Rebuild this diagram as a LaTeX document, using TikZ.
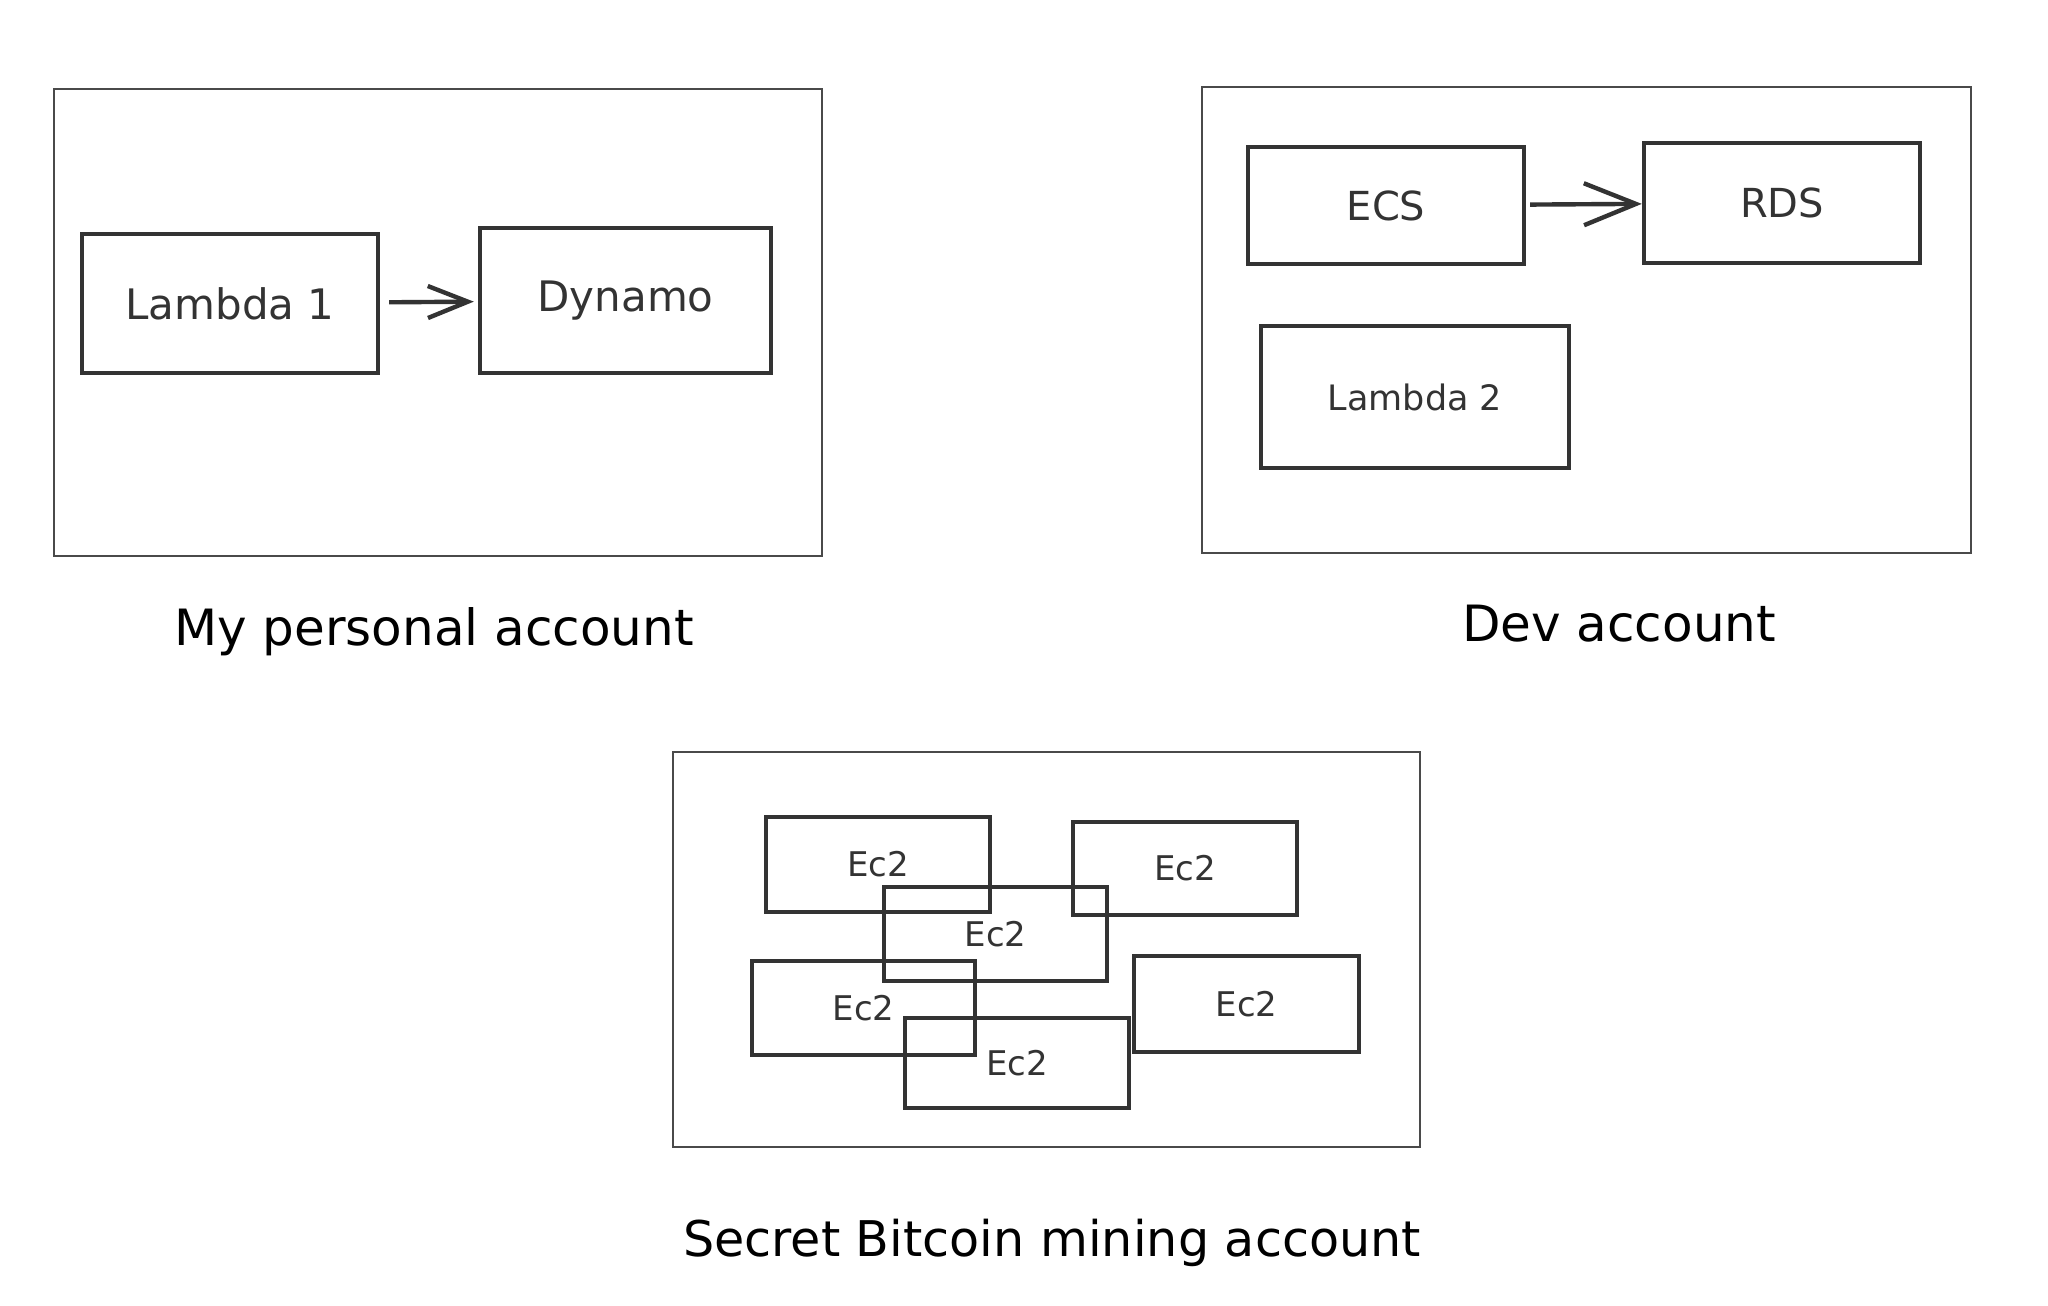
\documentclass[tikz,border=0pt]{standalone}
\usepackage{fontspec}
\setmainfont{DejaVu Sans}
\usetikzlibrary{arrows.meta}
\definecolor{ink}{HTML}{333333}
\definecolor{framec}{HTML}{4A4A4A}
\begin{document}
\begin{tikzpicture}[x=0.5pt,y=-0.5pt,
  acct/.style={draw=framec,line width=1.2pt,inner sep=0pt},
  svc/.style={draw=ink,line width=2.2pt,inner sep=0pt,text=ink},
  big/.style={font=\fontsize{21}{25}\selectfont},
  mid/.style={font=\fontsize{20}{24}\selectfont},
  small/.style={font=\fontsize{17.5}{21}\selectfont},
  ectext/.style={font=\fontsize{17}{20}\selectfont},
  lbl/.style={anchor=base,text=black,font=\fontsize{25}{30}\selectfont},
  arr/.style={draw=ink,line width=2.2pt},
]
\useasboundingbox (0,0) rectangle (2048,1305);

% Account frames
\node[acct,minimum width=384pt,minimum height=233.5pt] (personal) at (438,322.5) {};
\node[acct,minimum width=384.5pt,minimum height=233pt] (dev) at (1586.5,320) {};
\node[acct,minimum width=373.5pt,minimum height=197.5pt] (btc) at (1046.5,949.5) {};

% Personal account
\node[svc,big,minimum width=148pt,minimum height=69.5pt] (lam1) at (230,303.5) {Lambda 1};
\node[svc,big,minimum width=145.5pt,minimum height=72.5pt] (dyn) at (625.5,300.5) {Dynamo};
\draw[arr,-{Straight Barb[length=20pt,width=16pt]},shorten <=4.5pt,shorten >=2pt] (lam1) -- (dyn);

% Dev account
\node[svc,mid,minimum width=138pt,minimum height=58.5pt] (ecs) at (1386,205.5) {ECS};
\node[svc,mid,minimum width=138pt,minimum height=60pt] (rds) at (1782,203) {RDS};
\node[svc,small,minimum width=154pt,minimum height=71pt] (lam2) at (1415,397) {Lambda 2};
\draw[arr,-{Straight Barb[length=26pt,width=21pt]},shorten <=2pt] (ecs) -- (rds);

% Bitcoin account
\node[svc,ectext,minimum width=112pt,minimum height=47.5pt] (ecA) at (878,864.5) {Ec2};
\node[svc,ectext,minimum width=112pt,minimum height=46.5pt] (ecB) at (1185,868.5) {Ec2};
\node[svc,ectext,minimum width=111.5pt,minimum height=47pt] (ecC) at (995.5,934) {Ec2};
\node[svc,ectext,minimum width=111.5pt,minimum height=47pt] (ecD) at (863.5,1008) {Ec2};
\node[svc,ectext,minimum width=112pt,minimum height=45pt] (ecE) at (1017,1063) {Ec2};
\node[svc,ectext,minimum width=112.5pt,minimum height=48pt] (ecF) at (1246.5,1004) {Ec2};

% Labels
\node[lbl] (lp) at (434,645) {My personal account};
\node[lbl] (ld) at (1619,641) {Dev account};
\node[lbl,font=\fontsize{24.6}{30}\selectfont] (lb) at (1052,1256) {Secret Bitcoin mining account};
\end{tikzpicture}
\end{document}
